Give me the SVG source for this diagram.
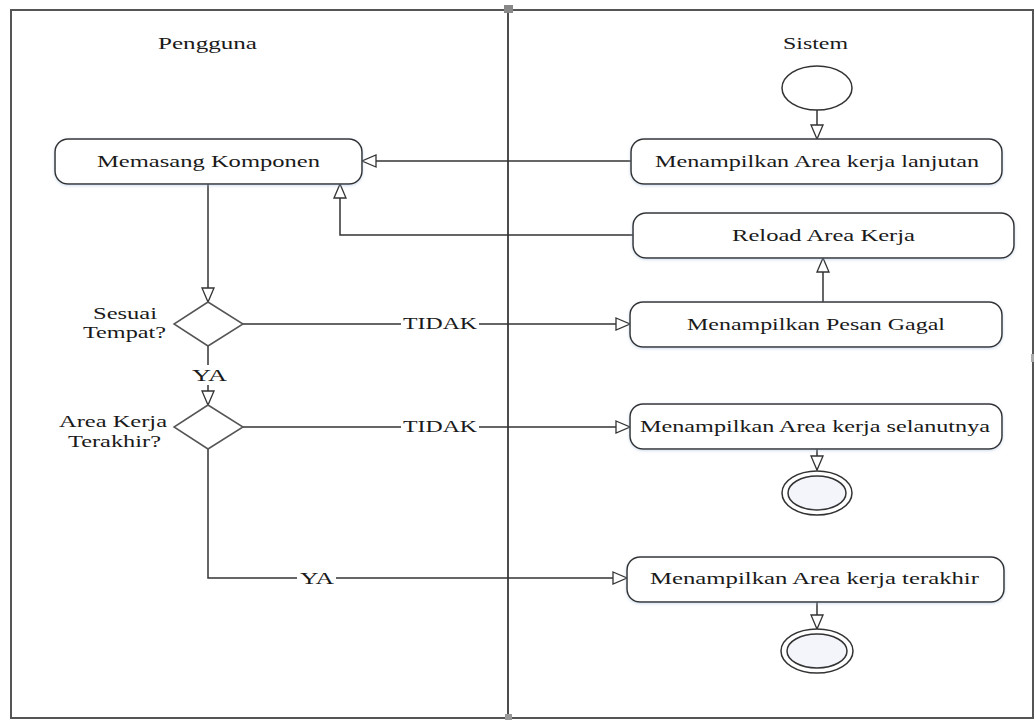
<svg xmlns="http://www.w3.org/2000/svg" width="1035" height="722" viewBox="0 0 1035 722" font-family="Liberation Serif, Times New Roman, serif">
<style>
text{font-family:"Liberation Serif",serif;font-size:17px;fill:#1a1a1a}
.box{fill:#fff;stroke:#333;stroke-width:1.5}
.dia{fill:#fff;stroke:#555;stroke-width:1.5}
.con{fill:none;stroke:#333;stroke-width:1.5}
.lbl{fill:#fff;stroke:none}
.endi{fill:#f3f5fa;stroke:#333;stroke-width:1.5}
</style>
<defs>
<marker id="tri" markerUnits="userSpaceOnUse" markerWidth="18" markerHeight="16" refX="15" refY="7" orient="auto">
<path d="M1,1 L15,7 L1,13 z" fill="#fff" stroke="#333" stroke-width="1.3"/>
</marker>
<filter id="sh" x="-5%" y="-20%" width="110%" height="140%">
<feDropShadow dx="0" dy="1" stdDeviation="1.5" flood-color="#9fb8d8" flood-opacity="0.5"/>
</filter>
</defs>

<g id="frame">
<rect x="11" y="10" width="1022" height="708" fill="none" stroke="#555" stroke-width="2"/>
<line x1="508" y1="10" x2="508" y2="718" stroke="#111" stroke-width="1.5"/>
<rect x="504" y="5" width="9" height="8" fill="#888"/>
<rect x="505" y="714" width="7" height="6" fill="#999"/>
<rect x="1031" y="354" width="3" height="8" fill="#aaa"/>
<text x="158" y="49" font-family="Liberation Serif" textLength="99" lengthAdjust="spacingAndGlyphs">Pengguna</text>
<text x="783" y="49" font-family="Liberation Serif" textLength="65" lengthAdjust="spacingAndGlyphs">Sistem</text>
</g>

<g id="connectors">
<line class="con" x1="817" y1="110" x2="817" y2="139" marker-end="url(#tri)"/>
<line class="con" x1="631" y1="161" x2="362" y2="161" marker-end="url(#tri)"/>
<polyline class="con" points="633,235 340,235 340,184" marker-end="url(#tri)"/>
<line class="con" x1="823" y1="302" x2="823" y2="258" marker-end="url(#tri)"/>
<line class="con" x1="208" y1="184" x2="208" y2="302" marker-end="url(#tri)"/>
<line class="con" x1="243" y1="324" x2="630" y2="324" marker-end="url(#tri)"/>
<line class="con" x1="208" y1="346" x2="208" y2="405" marker-end="url(#tri)"/>
<line class="con" x1="243" y1="427" x2="630" y2="427" marker-end="url(#tri)"/>
<line class="con" x1="817" y1="449" x2="817" y2="470" marker-end="url(#tri)"/>
<polyline class="con" points="208,449 208,578 627,578" marker-end="url(#tri)"/>
<line class="con" x1="817" y1="602" x2="817" y2="629" marker-end="url(#tri)"/>
<rect class="lbl" x="401" y="315" width="78" height="18"/>
<text x="403" y="329" textLength="74" lengthAdjust="spacingAndGlyphs">TIDAK</text>
<rect class="lbl" x="188" y="365" width="43" height="20"/>
<text x="192" y="381" textLength="35" lengthAdjust="spacingAndGlyphs">YA</text>
<rect class="lbl" x="401" y="418" width="78" height="18"/>
<text x="403" y="432" textLength="74" lengthAdjust="spacingAndGlyphs">TIDAK</text>
<rect class="lbl" x="297" y="569" width="39" height="18"/>
<text x="300" y="584" textLength="34" lengthAdjust="spacingAndGlyphs">YA</text>
</g>

<g id="start">
<ellipse cx="817" cy="88" rx="35" ry="22" fill="#fff" stroke="#333" stroke-width="1.5"/>
</g>

<g id="memasang">
<rect class="box" x="55" y="139" width="307" height="45" rx="13" filter="url(#sh)"/>
<text x="97" y="167" textLength="223" lengthAdjust="spacingAndGlyphs">Memasang Komponen</text>
</g>

<g id="lanjutan">
<rect class="box" x="631" y="139" width="371" height="45" rx="13" filter="url(#sh)"/>
<text x="655" y="167" textLength="324" lengthAdjust="spacingAndGlyphs">Menampilkan Area kerja lanjutan</text>
</g>

<g id="reload">
<rect class="box" x="633" y="213" width="381" height="45" rx="13" filter="url(#sh)"/>
<text x="732" y="241" textLength="183" lengthAdjust="spacingAndGlyphs">Reload Area Kerja</text>
</g>

<g id="pesan-gagal">
<rect class="box" x="630" y="302" width="372" height="45" rx="13" filter="url(#sh)"/>
<text x="687" y="330" textLength="258" lengthAdjust="spacingAndGlyphs">Menampilkan Pesan Gagal</text>
</g>

<g id="sesuai-tempat">
<polygon class="dia" points="208,302 243,324 208,346 174,324"/>
<text x="93" y="319" textLength="64" lengthAdjust="spacingAndGlyphs">Sesuai</text>
<text x="83" y="338" textLength="83" lengthAdjust="spacingAndGlyphs">Tempat?</text>
</g>

<g id="area-terakhir">
<polygon class="dia" points="208,405 243,427 208,449 174,427"/>
<text x="59" y="427" textLength="108" lengthAdjust="spacingAndGlyphs">Area Kerja</text>
<text x="68" y="447" textLength="93" lengthAdjust="spacingAndGlyphs">Terakhir?</text>
</g>

<g id="selanutnya">
<rect class="box" x="630" y="404" width="372" height="45" rx="13" filter="url(#sh)"/>
<text x="640" y="432" textLength="350" lengthAdjust="spacingAndGlyphs">Menampilkan Area kerja selanutnya</text>
</g>

<g id="end1">
<ellipse cx="817" cy="493" rx="35" ry="22" fill="#fff" stroke="#333" stroke-width="1.5"/>
<ellipse class="endi" cx="817" cy="493" rx="29" ry="17"/>
</g>

<g id="terakhir">
<rect class="box" x="627" y="557" width="377" height="45" rx="13" filter="url(#sh)"/>
<text x="650" y="584" textLength="329" lengthAdjust="spacingAndGlyphs">Menampilkan Area kerja terakhir</text>
</g>

<g id="end2">
<ellipse cx="817" cy="651" rx="36" ry="22" fill="#fff" stroke="#333" stroke-width="1.5"/>
<ellipse class="endi" cx="817" cy="651" rx="30" ry="17"/>
</g>
</svg>
